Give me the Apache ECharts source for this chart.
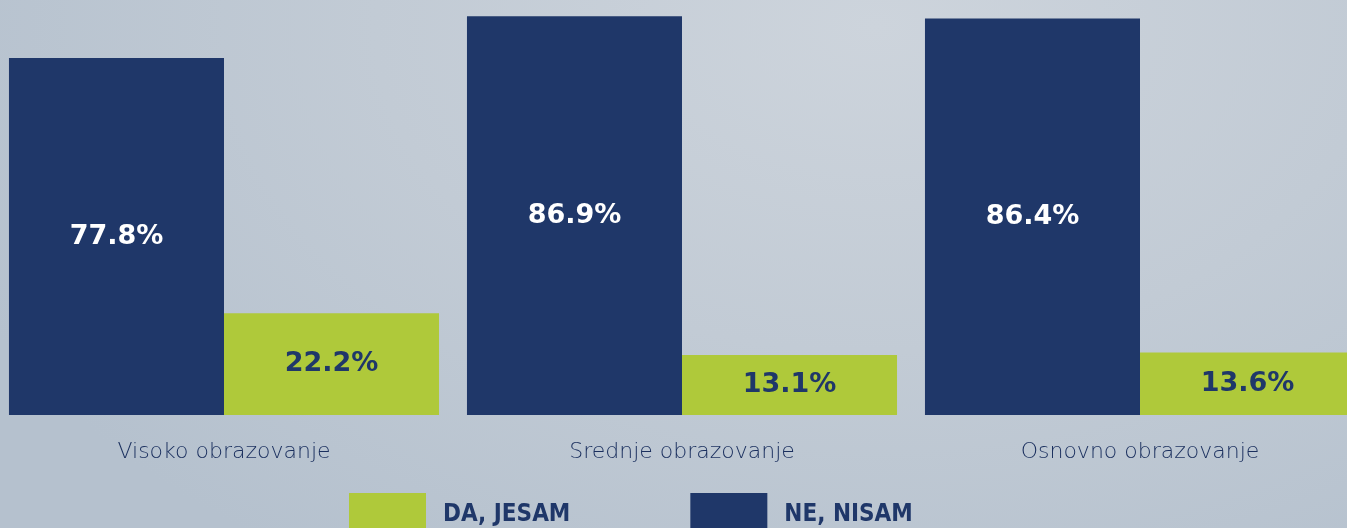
<!DOCTYPE html>
<html>
<head>
<meta charset="utf-8">
<script src="https://cdn.jsdelivr.net/npm/echarts@6/dist/echarts.min.js"></script>
<style>
html,body{margin:0;padding:0;width:1347px;height:528px;overflow:hidden;}
body{background:radial-gradient(ellipse 1000px 650px at 65% 5%, #cdd4dc 0%, #c2cbd5 50%, #b5c1ce 100%);}
#c{width:1347px;height:528px;}
</style>
</head>
<body>
<div id="c"></div>
<script>
const categories = ['Visoko obrazovanje', 'Srednje obrazovanje', 'Osnovno obrazovanje'];
const neNisam = [77.8, 86.9, 86.4];
const daJesam = [22.2, 13.1, 13.6];
const seriesNames = ['NE, NISAM', 'DA, JESAM'];

const BLUE = '#1f3769';
const GREEN = '#afc93a';

const chart = echarts.init(document.getElementById('c'), null, {renderer: 'canvas'});
chart.setOption({
  backgroundColor: 'transparent',
  animation: false,
  grid: {left: -5, width: 1374, top: 2, bottom: 113, containLabel: false, outerBoundsMode: 'none'},
  legend: {
    top: 488, left: 344,
    data: [seriesNames[1], seriesNames[0]],
    icon: 'rect',
    itemWidth: 77, itemHeight: 44, itemGap: 120,
    textStyle: {color: BLUE, fontFamily: '"DejaVu Sans Condensed", "DejaVu Sans"', fontWeight: 'bold', fontSize: 24, padding: [0,0,0,12]},
    selectedMode: false
  },
  xAxis: {
    type: 'category', data: categories,
    axisLine: {show: false}, axisTick: {show: false},
    axisLabel: {color: '#1a2f5e', fontFamily: '"DejaVu Sans"', fontWeight: 200, fontSize: 22, margin: 26}
  },
  yAxis: {type: 'value', min: 0, max: 90, show: false, splitLine: {show: false}},
  series: [
    {
      name: seriesNames[0], type: 'bar', data: neNisam,
      barGap: '0%', barCategoryGap: '6.1%',
      itemStyle: {color: BLUE},
      label: {show: true, position: 'inside', formatter: p => p.value.toFixed(1) + '%', color: '#ffffff', fontFamily: '"DejaVu Sans"', fontWeight: 'bold', fontSize: 27}
    },
    {
      name: seriesNames[1], type: 'bar', data: daJesam,
      barGap: '0%', barCategoryGap: '6.1%',
      itemStyle: {color: GREEN},
      label: {show: true, position: 'inside', formatter: p => p.value.toFixed(1) + '%', color: BLUE, fontFamily: '"DejaVu Sans"', fontWeight: 'bold', fontSize: 27}
    }
  ]
});
</script>
</body>
</html>
